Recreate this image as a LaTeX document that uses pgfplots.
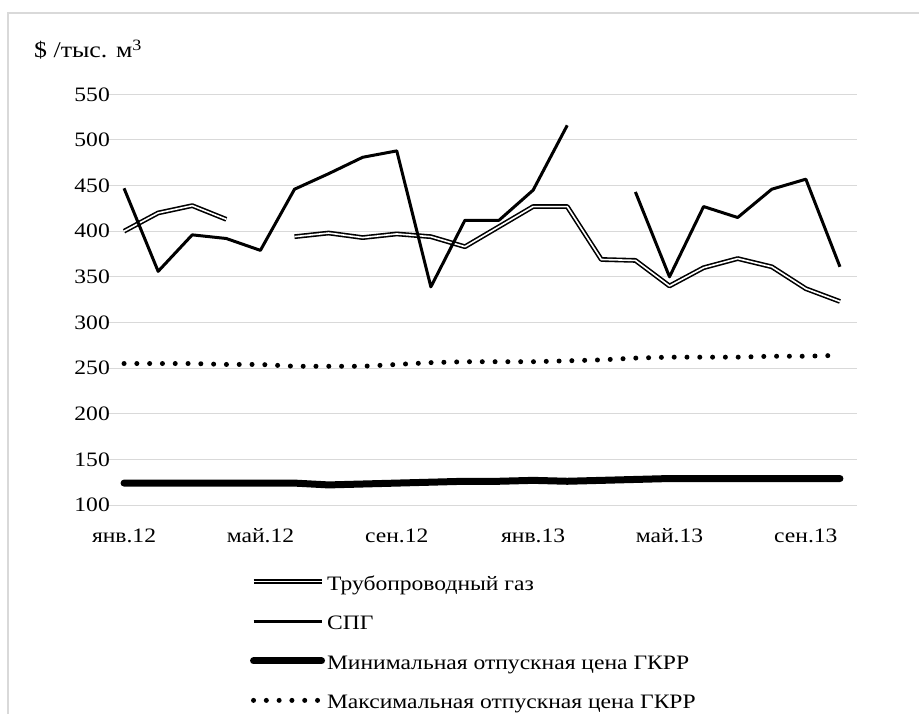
\documentclass[border=0pt]{standalone}
\usepackage{pgfplots}
\pgfplotsset{compat=1.18}
\usepackage{pgfplotstable}
\usepackage{fontspec}
\setmainfont{Liberation Serif}[FakeStretch=1.15]
\definecolor{gridgray}{HTML}{D9D9D9}

\pgfplotstableread{
x pipe lng mn mx
0 400 447 124 255
1 420 356 124 255
2 428 396 124 255
3 413 392 124 254
4 nan 379 124 254
5 394 446 124 252
6 398 463 122 252
7 393 481 123 252
8 397 488 124 254
9 394 339 125 256
10 383 412 126 257
11 405 412 126 257
12 427 445 127 257
13 427 516 126 258
14 369 nan 127 259
15 368 443 128 261
16 340 350 129 262
17 360 427 129 262
18 370 415 129 262
19 361 446 129 263
20 337 457 129 263
21 323 361 129 264
}\datatable

\begin{document}
\fontsize{20}{24}\selectfont
\begin{tikzpicture}
\path[use as bounding box] (0,0) rectangle (919pt,713pt);
\draw[gridgray, line width=1.5pt] (8pt,-1pt) -- (8pt,700pt) -- (920pt,700pt);
\node[anchor=base west, inner sep=0pt, font=\fontsize{22.5}{26}\selectfont] at (34pt,655pt) {\$ /тыс. м\textsuperscript{3}};
\begin{axis}[
  at={(107pt,208pt)}, anchor=south west,
  scale only axis, width=750pt, height=410.7pt,
  xmin=-0.5, xmax=21.5, ymin=100, ymax=550,
  ytick={100,150,...,550},
  xtick={0,4,8,12,16,20},
  xticklabels={янв.12,май.12,сен.12,янв.13,май.13,сен.13},
  major tick length=0pt,
  axis line style={draw=none},
  ymajorgrids, grid style={gridgray, line width=1pt},
  /pgf/number format/assume math mode=true,
  tick label style={font=\fontsize{20.5}{24}\selectfont},
  yticklabel style={anchor=east, inner sep=0pt, xshift=3pt},
  xticklabel style={anchor=north, inner sep=0pt, text height=14pt, text depth=0pt, yshift=-23pt},
  clip=false,
  unbounded coords=jump,
  legend style={at={(axis description cs:0.1907,-0.1668)}, anchor=north west,
    draw=none, fill=none, inner sep=0pt, outer sep=0pt, row sep=19pt,
    font=\fontsize{20.5}{24}\selectfont,
    cells={anchor=west},
    /tikz/every odd column/.append style={column sep=0pt}},
  legend image code/.code={\draw[#1] (0pt,3pt) -- (68pt,3pt);},
]
\addplot[black, line width=1.6pt, double=white, double distance=1.6pt, line join=round] table[x=x,y=pipe] {\datatable};
\addlegendentry{Трубопроводный газ}
\addplot[black, line width=3pt, line join=round] table[x=x,y=lng] {\datatable};
\addlegendentry{СПГ}
\addplot[black, line width=7pt, line cap=round, line join=round] table[x=x,y=mn] {\datatable};
\addlegendentry{Минимальная отпускная цена ГКРР}
\addplot[black, line width=5pt, line cap=round, dash pattern=on 0pt off 12.8pt] table[x=x,y=mx] {\datatable};
\addlegendentry{Максимальная отпускная цена ГКРР}
\end{axis}
\end{tikzpicture}
\end{document}
